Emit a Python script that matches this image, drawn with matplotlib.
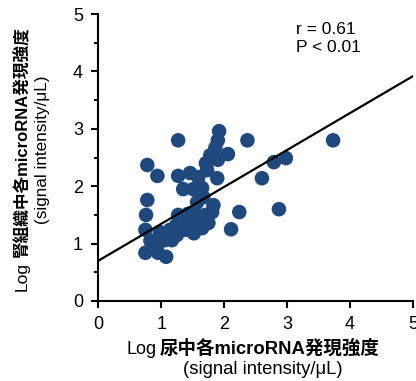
import matplotlib
matplotlib.use("Agg")
import matplotlib.pyplot as plt
import numpy as np
from matplotlib.ticker import MultipleLocator

# フォント: Arial風 + 日本語
plt.rcParams['font.family'] = ['Liberation Sans', 'Noto Sans CJK JP']

# 尿中 (x) と 腎組織中 (y) の log 発現強度
urine = [3.73, 2.98, 2.79, 2.60, 2.37, 2.87, 2.24, 2.11, 1.92, 1.90,
         1.86, 2.06, 1.78, 1.71, 1.90, 1.73, 1.27, 0.78, 0.94, 1.27,
         1.46, 1.59, 1.89, 1.35, 1.51, 1.65, 1.67, 1.57, 1.83, 1.81,
         0.78, 0.76, 0.75, 0.83, 0.75, 0.95, 1.08, 0.94, 1.06, 1.17,
         1.25, 1.14, 1.24, 1.30, 1.43, 1.54, 1.62, 1.70, 1.49, 1.38,
         1.52, 1.67, 1.35, 1.46, 1.27, 0.98, 1.65, 1.75]
kidney = [2.80, 2.49, 2.42, 2.14, 2.80, 1.60, 1.55, 1.25, 2.96, 2.80,
          2.67, 2.56, 2.54, 2.40, 2.46, 2.28, 2.80, 2.37, 2.18, 2.18,
          2.23, 2.16, 2.14, 1.95, 1.95, 1.97, 1.81, 1.72, 1.67, 1.55,
          1.76, 1.50, 1.24, 1.05, 0.84, 0.84, 0.77, 0.98, 1.06, 1.06,
          1.15, 1.24, 1.32, 1.45, 1.52, 1.53, 1.41, 1.50, 1.32, 1.24,
          1.18, 1.32, 1.41, 1.45, 1.50, 1.20, 1.27, 1.36]

# 回帰直線
slope = 0.644
intercept = 0.70
r_text = "r = 0.61"
p_text = "P < 0.01"

fig = plt.figure(figsize=(4.16, 3.81), dpi=100)
ax = fig.add_axes([0.236, 0.21, 0.757, 0.753])

ax.scatter(urine, kidney, s=110, color='#1f497d', edgecolors='none', zorder=2)
xl = np.array([0, 5])
ax.plot(xl, slope * xl + intercept, color='black', lw=1.6, zorder=3)

ax.set_xlim(0, 5)
ax.set_ylim(0, 5)
ax.xaxis.set_major_locator(MultipleLocator(1))
ax.yaxis.set_major_locator(MultipleLocator(1))
ax.yaxis.set_minor_locator(MultipleLocator(0.5))
ax.spines['top'].set_visible(False)
ax.spines['right'].set_visible(False)
ax.spines['left'].set_linewidth(1.5)
ax.spines['bottom'].set_linewidth(1.5)
ax.tick_params(axis='both', which='major', labelsize=13, width=1.5, length=5, pad=6)
ax.tick_params(axis='y', which='minor', width=1.5, length=3)

# テキスト配置 (ピクセル -> figure座標)
W, H = 416, 381
def fx(px):
    return px / W
def fy(py):
    return 1 - py / H

fig.text(fx(296), fy(30), r_text, fontsize=12.5, va='center')
fig.text(fx(296), fy(47), p_text, fontsize=12.5, va='center')

# ラベル (Log は通常, 日本語部分は太字)
fig.text(fx(157), fy(349), "Log", fontsize=13, ha='right', va='center')
fig.text(fx(160), fy(349), "尿中各microRNA発現強度", fontsize=13.3,
         fontweight='bold', ha='left', va='center')
fig.text(fx(263), fy(369), "(signal intensity/μL)", fontsize=13.3,
         ha='center', va='center')

fig.text(fx(22), fy(262), "Log", fontsize=12.5, rotation=90,
         ha='center', va='top')
fig.text(fx(22), fy(257), "腎組織中各microRNA発現強度", fontsize=12,
         fontweight='bold', rotation=90, ha='center', va='bottom')
fig.text(fx(43), fy(150), "(signal intensity/μL)", fontsize=12.3,
         rotation=90, ha='center', va='center')

fig.savefig("out.png", dpi=100)
